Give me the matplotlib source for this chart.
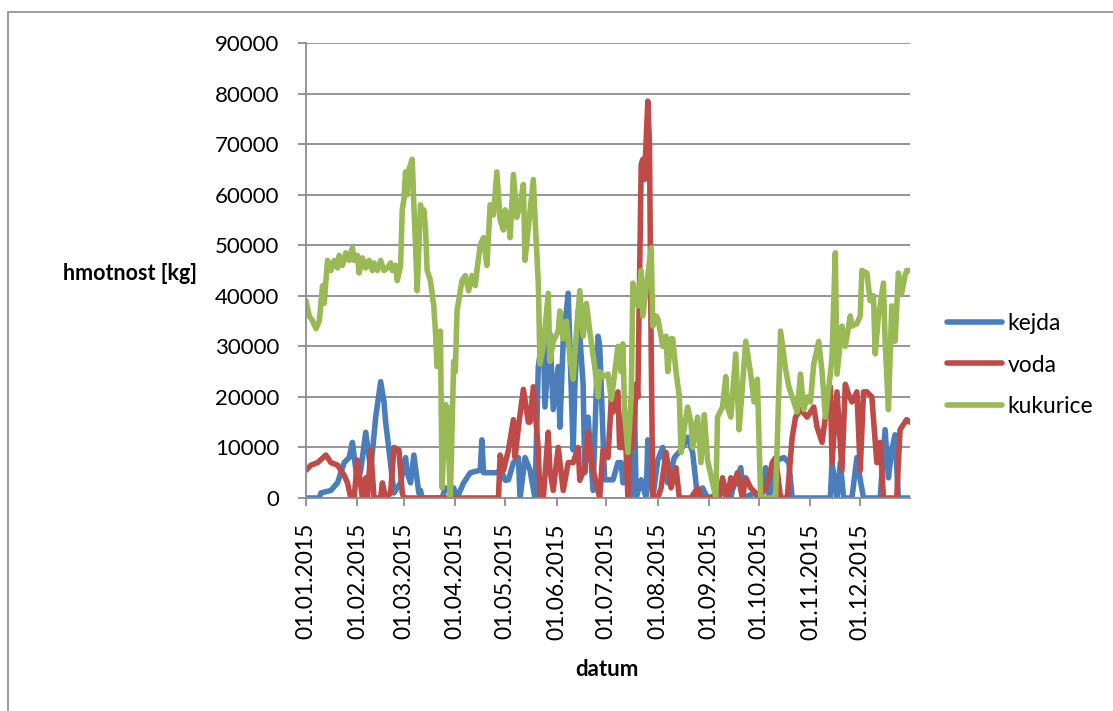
import numpy as np
import pandas as pd
import matplotlib
matplotlib.use("Agg")
import matplotlib.pyplot as plt
import matplotlib.dates as mdates
from matplotlib.patches import Rectangle

# den v roce (0 = 1. ledna 2015) a hmotnost v kg
kejda_den = [0, 8, 9, 15, 19, 23, 26, 28, 31, 33, 36, 39, 42, 45, 47, 48, 50, 53, 57, 60,
             61, 63, 65, 68, 69, 70, 82, 84, 85, 89, 91, 95, 99, 105, 106, 107, 110, 116, 117, 120,
             122, 125, 128, 129, 132, 135, 138, 140, 143, 144, 147, 149, 152, 153, 155, 158, 161, 162, 164, 167,
             168, 170, 173, 176, 177, 179, 180, 185, 188, 190, 191, 194, 197, 198, 199, 202, 205, 206, 209, 212,
             215, 218, 222, 226, 230, 233, 236, 239, 242, 251, 256, 257, 262, 264, 270, 273, 277, 279, 284, 288,
             291, 293, 316, 317, 320, 322, 324, 329, 332, 334, 336, 346, 349, 351, 353, 355, 357, 364]
kejda_kg = [0, 0, 1000, 1500, 3000, 7000, 8000, 11000, 3000, 5500, 13000, 5500, 16000, 23000, 19000, 15000, 9500, 1000, 3000, 8000,
            5000, 3000, 8500, 1000, 1500, 0, 0, 2000, 1500, 2000, 0, 3000, 5000, 5500, 11500, 5000, 5000, 5000, 6000, 3500,
            3600, 7000, 8000, 0, 8000, 5500, 0, 26000, 33000, 18000, 32500, 17500, 26000, 14000, 31000, 40500, 9500, 21500, 37000, 22500,
            5000, 16000, 1500, 32000, 30000, 12000, 3600, 3600, 7000, 7000, 3000, 8000, 0, 17500, 0, 3600, 0, 11500, 0, 7500,
            10000, 3000, 8000, 9500, 12000, 9000, 0, 2000, 0, 1000, 0, 1600, 6000, 0, 1000, 0, 6000, 0, 7500, 8000,
            7000, 0, 0, 7000, 0, 7000, 0, 0, 8000, 3600, 0, 0, 13500, 4000, 9500, 12500, 0, 0]

voda_den = [0, 3, 7, 12, 15, 19, 23, 25, 27, 29, 31, 34, 36, 37, 39, 41, 45, 46, 48, 51,
            53, 56, 58, 59, 116, 117, 119, 122, 125, 126, 128, 131, 134, 135, 137, 140, 141, 143, 146, 147,
            149, 152, 155, 158, 161, 164, 165, 168, 170, 173, 177, 179, 182, 184, 185, 188, 189, 191, 192, 194,
            196, 197, 199, 200, 202, 203, 204, 206, 207, 208, 209, 212, 214, 217, 220, 223, 225, 232, 236, 238,
            249, 251, 254, 256, 257, 260, 263, 265, 268, 271, 273, 277, 279, 281, 283, 286, 290, 293, 295, 298,
            302, 306, 308, 311, 313, 316, 317, 320, 323, 325, 327, 329, 332, 334, 336, 338, 341, 344, 346, 348,
            356, 358, 360, 362, 364]
voda_kg = [5500, 6500, 7000, 8500, 7000, 6500, 4500, 3000, 0, 0, 7500, 0, 4000, 0, 9500, 0, 0, 3000, 0, 1000,
           10000, 9500, 1000, 0, 0, 8500, 5500, 9500, 15500, 8000, 14000, 21500, 15000, 15000, 22000, 9500, 0, 0, 13000, 5500,
           1500, 10000, 1500, 7000, 7000, 10000, 3500, 6000, 13000, 5500, 0, 9500, 8000, 19500, 17000, 21000, 10000, 10000, 17000, 0,
           19500, 10000, 22500, 20000, 66000, 67000, 63000, 78500, 70000, 30000, 0, 0, 2000, 9000, 2000, 6000, 0, 0, 2000, 0,
           0, 4000, 0, 4000, 2000, 5000, 0, 4000, 2000, 1000, 0, 2000, 4000, 7000, 8000, 0, 0, 12000, 16000, 17500,
           16000, 18000, 14000, 11000, 16000, 22000, 7000, 21000, 5500, 22500, 20500, 19000, 21000, 5500, 21000, 21000, 20000, 7000, 11000, 0,
           0, 13500, 14500, 15500, 15000]

kukurice_den = [0, 2, 4, 6, 8, 10, 11, 12, 13, 15, 17, 19, 20, 22, 24, 26, 28, 29, 31, 32,
                34, 36, 38, 40, 41, 43, 45, 47, 49, 51, 52, 54, 55, 57, 58, 59, 60, 61, 62, 64,
                65, 66, 67, 69, 70, 71, 72, 73, 75, 77, 78, 79, 81, 82, 84, 85, 87, 89, 90, 91,
                94, 96, 98, 100, 102, 103, 105, 107, 109, 111, 113, 115, 117, 119, 120, 122, 123, 125, 127, 129,
                131, 132, 134, 137, 138, 140, 141, 143, 146, 147, 149, 152, 153, 155, 157, 159, 161, 163, 165, 167,
                169, 171, 174, 176, 177, 179, 182, 184, 185, 188, 190, 191, 192, 194, 196, 197, 200, 202, 203, 206,
                208, 209, 211, 212, 214, 215, 217, 218, 220, 221, 223, 225, 226, 228, 230, 232, 233, 236, 238, 240,
                242, 245, 247, 248, 251, 253, 254, 256, 259, 261, 263, 265, 268, 270, 272, 274, 283, 286, 289, 291,
                293, 296, 298, 300, 302, 304, 306, 309, 311, 313, 316, 317, 319, 320, 323, 325, 328, 329, 332, 334,
                335, 338, 340, 342, 343, 345, 348, 349, 351, 353, 355, 357, 359, 361, 362, 364]
kukurice_kg = [39000, 36000, 35000, 33500, 35000, 42000, 38500, 43000, 47000, 45000, 47000, 45500, 48000, 46000, 48500, 47000, 49500, 47000, 48000, 44500,
               47500, 45500, 47000, 45000, 46500, 45000, 47000, 45000, 45500, 46500, 45000, 46000, 43000, 46000, 57000, 59000, 64500, 60000, 65000, 67000,
               58000, 50000, 41000, 58000, 55000, 57000, 53500, 45000, 43000, 38000, 33000, 26000, 33000, 2000, 18500, 18000, 0, 27000, 25000, 37000,
               43000, 44000, 41000, 44000, 42000, 45000, 50000, 51500, 46000, 58000, 56000, 64500, 55000, 53000, 57000, 55500, 51500, 64000, 55500, 58000,
               62000, 47000, 53500, 63000, 55500, 42500, 26500, 30000, 40500, 27000, 31000, 33000, 37000, 31500, 35000, 28000, 23500, 33000, 41000, 32000,
               38500, 33000, 26000, 20000, 25000, 24000, 24500, 19500, 22000, 30000, 25000, 30500, 17000, 9000, 20000, 42500, 38000, 45000, 36000, 44000,
               49500, 34000, 36000, 35500, 32000, 30000, 32000, 25000, 31500, 31500, 25000, 20000, 9000, 14000, 18000, 15000, 10000, 16000, 7000, 16500,
               7500, 3000, 0, 16000, 18000, 24000, 18000, 16000, 28500, 13500, 22000, 31000, 24500, 19000, 23500, 0, 0, 33000, 25500, 22000,
               20000, 17000, 24500, 17500, 20000, 19000, 26500, 31000, 25000, 16000, 24500, 28000, 48500, 24500, 34000, 30000, 36000, 34000, 34500, 36000,
               45000, 44500, 39000, 40000, 28500, 36000, 42500, 31000, 17500, 38000, 31000, 44500, 40500, 44000, 45000, 45000]

serie = [
    ("kejda", kejda_den, kejda_kg, "#4a7ebb"),
    ("voda", voda_den, voda_kg, "#be4b48"),
    ("kukurice", kukurice_den, kukurice_kg, "#98b954"),
]

start = pd.Timestamp("2015-01-01")
W, H = 1113, 711

fig = plt.figure(figsize=(W / 100, H / 100), dpi=100)
ax = fig.add_axes([306 / W, 1 - 498 / H, (910 - 306) / W, (498 - 43) / H])

for nazev, den, kg, barva in serie:
    datum = start + pd.to_timedelta(den, unit="D")
    ax.plot(datum, kg, color=barva, lw=4.0, label=nazev,
            solid_joinstyle="round", solid_capstyle="round")

ax.set_ylim(0, 90000)
ax.set_yticks(np.arange(0, 90001, 10000))
ax.set_xlim(start, pd.Timestamp("2015-12-31"))
ax.xaxis.set_major_locator(mdates.MonthLocator())
ax.xaxis.set_major_formatter(mdates.DateFormatter("%d.%m.%Y"))

ax.grid(axis="y", color="#8c8c8c", lw=1.3)
ax.set_axisbelow(True)
for s in ["top", "right"]:
    ax.spines[s].set_visible(False)
for s in ["left", "bottom"]:
    ax.spines[s].set_color("#8c8c8c")
    ax.spines[s].set_linewidth(1.3)
ax.tick_params(axis="both", colors="#8c8c8c", length=6, width=1.3, direction="out")
ax.tick_params(axis="y", labelcolor="black", labelsize=16, pad=13)
ax.tick_params(axis="x", labelcolor="black", labelsize=16.5, labelrotation=90, pad=12)
for t in ax.get_yticklabels() + ax.get_xticklabels():
    t.set_family("Lato")

fig.text(197 / W, 1 - 273 / H, "hmotnost [kg]", ha="right", va="center",
         fontsize=15.5, fontweight="bold", family="Lato")
fig.text(607 / W, 1 - 670 / H, "datum", ha="center", va="center",
         fontsize=16, fontweight="bold", family="Lato")

fig.legend(loc="center left", bbox_to_anchor=(947 / W, 1 - 365 / H), frameon=False,
           prop={"family": "Lato", "size": 16.5}, handlelength=2.4, handletextpad=0.25,
           labelspacing=0.9, borderpad=0, borderaxespad=0)

# rámeček kolem celého grafu
fig.patches.append(Rectangle((8 / W, -0.1), 1.2, (H - 12) / H + 0.1,
                             transform=fig.transFigure, fill=False,
                             ec="#8c8c8c", lw=1.2))

fig.savefig("out.png", dpi=100)
